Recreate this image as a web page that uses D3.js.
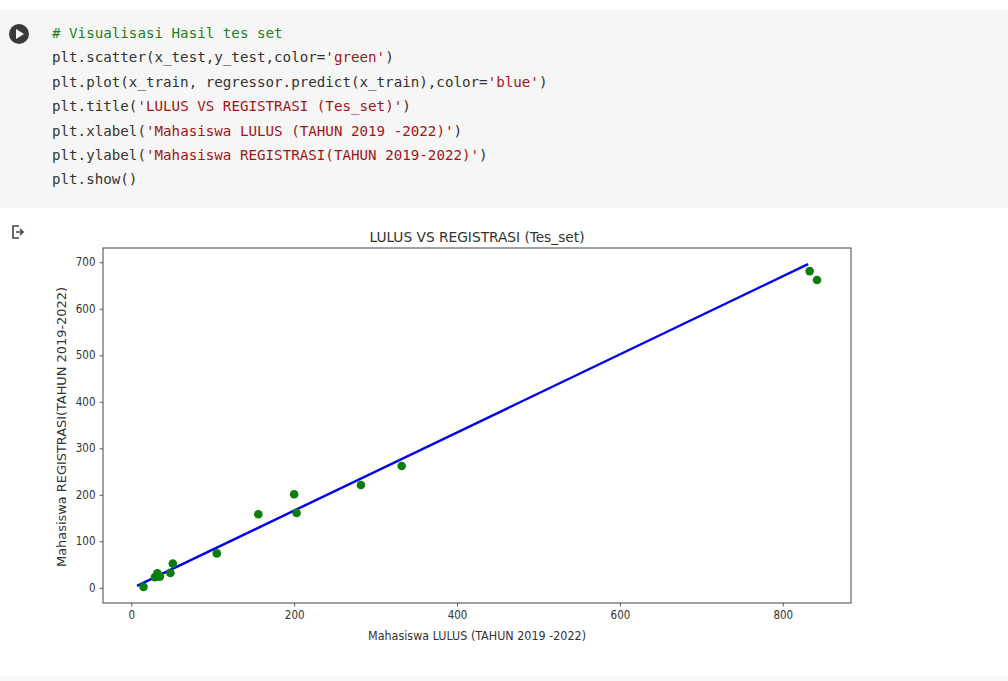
<!DOCTYPE html>
<html>
<head>
<meta charset="utf-8">
<script src="https://cdn.jsdelivr.net/npm/d3@7"></script>
<style>
  body { margin: 0; background: #fff; }
  svg { display: block; }
</style>
</head>
<body>
<svg id="page" width="1008" height="681"></svg>
<script>
// test set scatter (x = lulus, y = registrasi)
const xTest = [15, 29, 32, 35, 48, 51, 105, 156, 200, 203, 282, 332, 833, 842];
const yTest = [2, 23, 31, 24, 32, 52, 74, 158, 201, 161, 221, 262, 681, 662];

// regression line over the training range
const lineX = [7, 831];
const lineY = [4, 696];

const xTicks = [0, 200, 400, 600, 800];
const yTicks = [0, 100, 200, 300, 400, 500, 600, 700];

const title = 'LULUS VS REGISTRASI (Tes_set)';
const xLabel = 'Mahasiswa LULUS (TAHUN 2019 -2022)';
const yLabel = 'Mahasiswa REGISTRASI(TAHUN 2019-2022)';

// code cell lines as [text, kind] pieces
const codeLines = [
    [['# Visualisasi Hasil tes set', 'c']],
    [['plt.scatter(x_test,y_test,color=', 't'], ["'green'", 's'], [')', 't']],
    [['plt.plot(x_train, regressor.predict(x_train),color=', 't'], ["'blue'", 's'], [')', 't']],
    [['plt.title(', 't'], ["'LULUS VS REGISTRASI (Tes_set)'", 's'], [')', 't']],
    [['plt.xlabel(', 't'], ["'Mahasiswa LULUS (TAHUN 2019 -2022)'", 's'], [')', 't']],
    [['plt.ylabel(', 't'], ["'Mahasiswa REGISTRASI(TAHUN 2019-2022)'", 's'], [')', 't']],
    [['plt.show()', 't']]
];

const svg = d3.select('#page');
const sans = "'DejaVu Sans', 'Noto Sans', sans-serif";

// ---- code cell ----
svg.append('rect')
    .attr('x', 0).attr('y', 10)
    .attr('width', 1008).attr('height', 198)
    .attr('fill', '#f6f6f6');

svg.append('circle')
    .attr('cx', 19).attr('cy', 34).attr('r', 10)
    .attr('fill', '#3a3a3a');
svg.append('path')
    .attr('d', 'M16,29 L24,34 L16,39 Z')
    .attr('fill', '#fff');

const kindColor = {c: '#208020', s: '#a31515', t: '#333'};
const code = svg.append('g')
    .attr('font-family', "'DejaVu Sans Mono', 'Liberation Mono', monospace")
    .attr('font-size', 14.2);

codeLines.forEach((pieces, i) => {
    const t = code.append('text')
        .attr('x', 52)
        .attr('y', 38 + i * 24.4)
        .attr('xml:space', 'preserve');
    pieces.forEach(([s, k]) => {
        t.append('tspan').attr('fill', kindColor[k]).text(s);
    });
});

// output icon
svg.append('path')
    .attr('d', 'M19,226 H13 V238 H19 M16,232 H23 M20,229 L23,232 L20,235')
    .attr('fill', 'none')
    .attr('stroke', '#444')
    .attr('stroke-width', 1.6);

// bottom faint band
svg.append('rect')
    .attr('x', 0).attr('y', 676)
    .attr('width', 1008).attr('height', 5)
    .attr('fill', '#f7f7f7');

// ---- chart ----
const plot = {left: 103, right: 851, top: 248, bottom: 603};

const pad = (ext) => {
    const m = (ext[1] - ext[0]) * 0.05;
    return [ext[0] - m, ext[1] + m];
};
const xExt = d3.extent(xTest.concat(lineX));
const yExt = d3.extent(yTest.concat(lineY));

const x = d3.scaleLinear().domain(pad(xExt)).range([plot.left, plot.right]);
const y = d3.scaleLinear().domain(pad(yExt)).range([plot.bottom, plot.top]);

const axisColor = '#333';

const xAxis = svg.append('g')
    .attr('transform', `translate(0,${plot.bottom})`)
    .call(d3.axisBottom(x).tickValues(xTicks).tickSize(3.5).tickPadding(4).tickFormat(d3.format('d')));
const yAxis = svg.append('g')
    .attr('transform', `translate(${plot.left},0)`)
    .call(d3.axisLeft(y).tickValues(yTicks).tickSize(3.5).tickPadding(4).tickFormat(d3.format('d')));

[xAxis, yAxis].forEach(a => {
    a.select('.domain').remove();
    a.selectAll('line').attr('stroke', axisColor).attr('stroke-width', 0.8);
    a.selectAll('text')
        .attr('fill', axisColor)
        .attr('font-family', sans)
        .attr('font-size', 11.5)
        .attr('font-stretch', 'condensed');
});

// regression line
svg.append('path')
    .datum(d3.zip(lineX, lineY))
    .attr('d', d3.line().x(d => x(d[0])).y(d => y(d[1])))
    .attr('fill', 'none')
    .attr('stroke', '#0000ee')
    .attr('stroke-width', 2.4);

// scatter points
svg.append('g')
    .selectAll('circle')
    .data(d3.zip(xTest, yTest))
    .join('circle')
    .attr('cx', d => x(d[0]))
    .attr('cy', d => y(d[1]))
    .attr('r', 4.3)
    .attr('fill', '#0a7d0a');

// frame
svg.append('rect')
    .attr('x', plot.left).attr('y', plot.top)
    .attr('width', plot.right - plot.left)
    .attr('height', plot.bottom - plot.top)
    .attr('fill', 'none')
    .attr('stroke', '#444')
    .attr('stroke-width', 1);

// texts
const label = (txt, size, len) => svg.append('text')
    .attr('text-anchor', 'middle')
    .attr('font-family', sans)
    .attr('font-size', size)
    .attr('font-stretch', 'condensed')
    .attr('fill', axisColor)
    .attr('textLength', len)
    .attr('lengthAdjust', 'spacingAndGlyphs')
    .text(txt);

label(title, 13.5, 215)
    .attr('x', 477)
    .attr('y', plot.top - 6);

label(xLabel, 13, 218)
    .attr('x', 477)
    .attr('y', 640);

label(yLabel, 13, 280)
    .attr('transform', `translate(66,427) rotate(-90)`);
</script>
</body>
</html>
